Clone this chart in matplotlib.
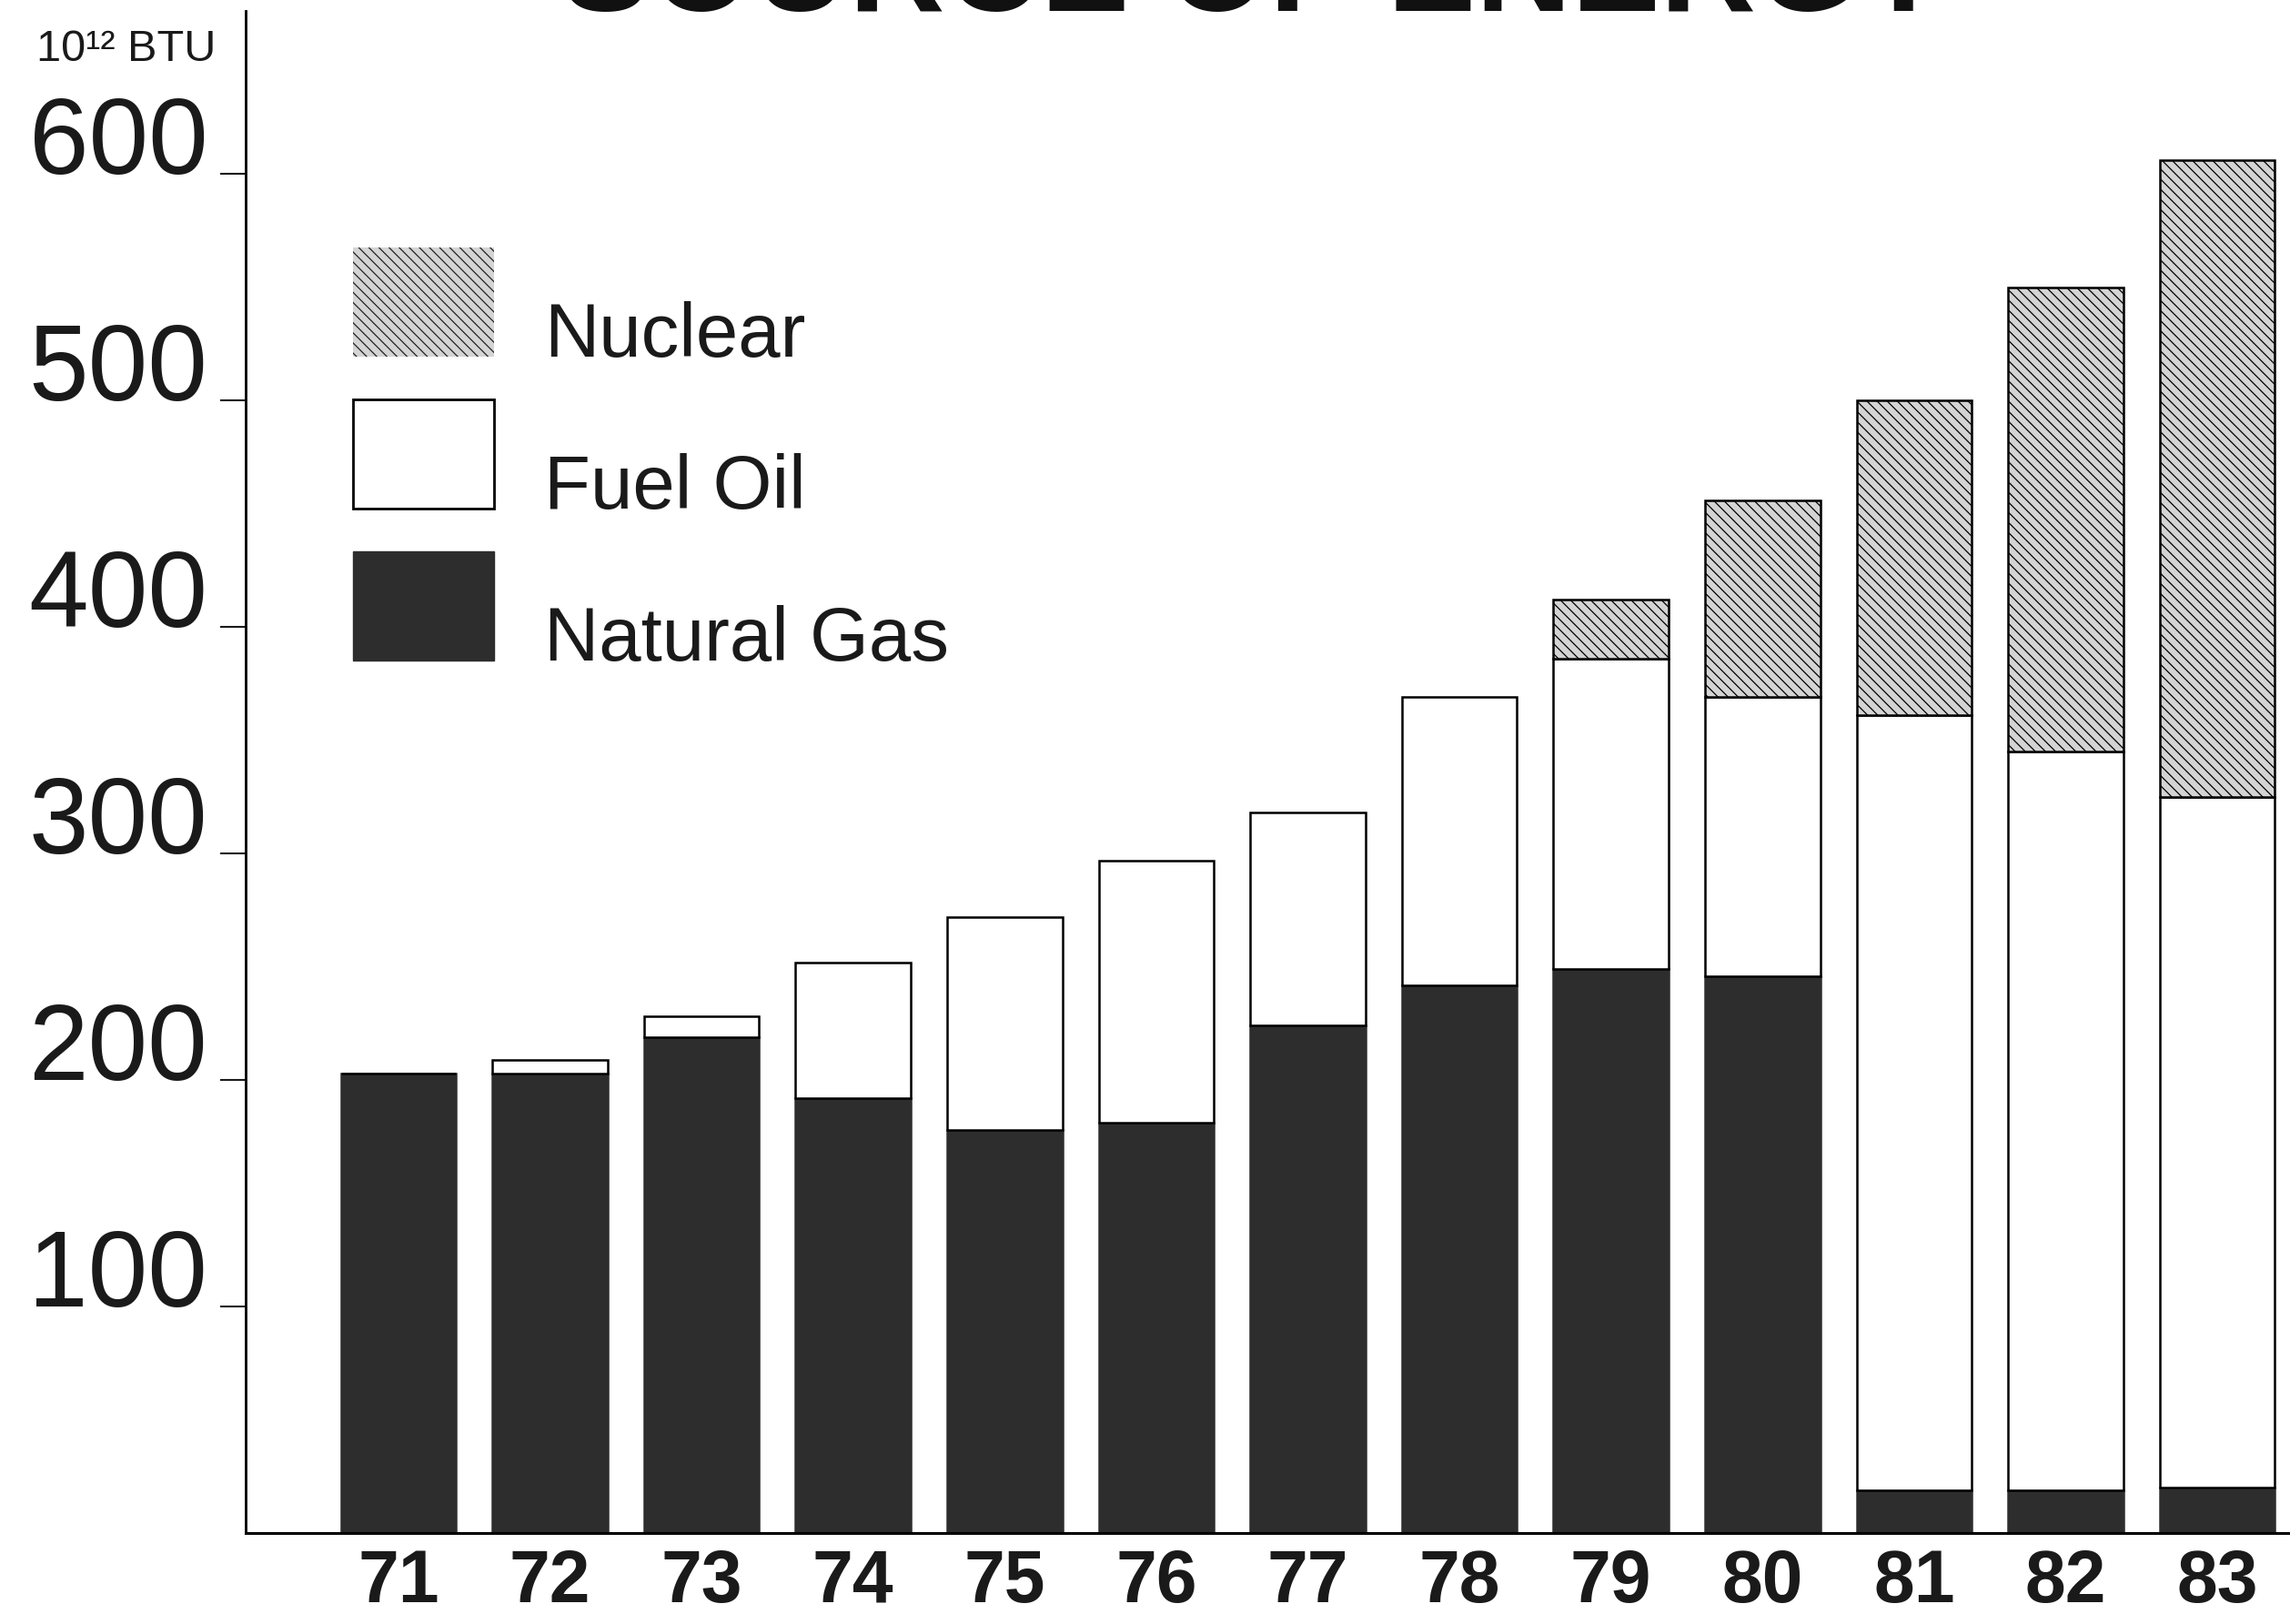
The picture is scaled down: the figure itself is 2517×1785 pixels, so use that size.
import matplotlib
matplotlib.use('Agg')
import matplotlib.pyplot as plt
from matplotlib.patches import Rectangle
import numpy as np

# values, 10^12 BTU
years = ['71', '72', '73', '74', '75', '76', '77', '78', '79', '80', '81', '82', '83']
natural_gas = [203, 203, 219, 192, 178, 181, 224, 242, 249, 246, 19, 19, 20]
fuel_oil = [0, 6, 9, 60, 94, 116, 94, 127, 137, 123, 342, 326, 305]
nuclear = [0, 0, 0, 0, 0, 0, 0, 0, 26, 87, 139, 205, 281]

y_ticks = [100, 200, 300, 400, 500, 600]
legend_labels = ['Nuclear', 'Fuel Oil', 'Natural Gas']

plt.rcParams['hatch.linewidth'] = 0.9

W, H = 2517, 1785
fig = plt.figure(figsize=(W / 100, H / 100), dpi=100)
ax = fig.add_axes([270 / W, 1 - 1685 / H, 1 - 270 / W, (1685 - 12) / H])

x = np.arange(len(years))
gas = np.array(natural_gas)
oil = np.array(fuel_oil)
nuc = np.array(nuclear)

gas_color = '#2d2d2d'
nuc_face = '#d4d4d4'
bw = 0.76

ax.bar(x, gas, width=bw, color=gas_color, edgecolor=gas_color, linewidth=1.8)
ax.bar(x, oil, width=bw, bottom=gas, color='white', edgecolor='black', linewidth=1.8)
has_nuc = nuc > 0
ax.bar(x[has_nuc], nuc[has_nuc], width=bw, bottom=(gas + oil)[has_nuc],
       color=nuc_face, edgecolor='black', linewidth=1.8, hatch='\\\\\\')

ax.set_xlim(-1.008, 12.48)
ax.set_ylim(0, 672)

for side in ['top', 'right']:
    ax.spines[side].set_visible(False)
ax.spines['left'].set_linewidth(2)
ax.spines['bottom'].set_linewidth(2.2)

ax.set_yticks(y_ticks)
ax.set_yticklabels([str(v) for v in y_ticks], fontfamily='Liberation Sans', fontsize=85)
for lab in ax.get_yticklabels():
    lab.set_verticalalignment('baseline')
ax.tick_params(axis='y', direction='out', length=20, width=1.5, pad=10, colors='#1a1a1a')

ax.set_xticks(x)
ax.set_xticklabels(years, fontfamily='Liberation Sans', fontweight='bold', fontsize=58)
ax.tick_params(axis='x', length=0, pad=12, colors='#1a1a1a')

# legend drawn by hand so text baselines sit on the bottom of each swatch
styles = [
    dict(facecolor=nuc_face, edgecolor='#222222', linewidth=0, hatch='\\\\\\'),
    dict(facecolor='white', edgecolor='black', linewidth=2),
    dict(facecolor=gas_color, edgecolor=gas_color, linewidth=1),
]
for i, (label, st) in enumerate(zip(legend_labels, styles)):
    top = 272 + i * 167
    bottom = top + 120
    fig.patches.append(Rectangle((388 / W, 1 - bottom / H), 155 / W, 120 / H,
                                 transform=fig.transFigure, figure=fig, **st))
    fig.text(598 / W, 1 - bottom / H, label, fontsize=60, va='baseline',
             family='Liberation Sans', color='#1a1a1a')

fig.text(40 / W, 1 - 67 / H, '10¹² BTU', fontsize=35, va='baseline',
         family='Liberation Sans', color='#1a1a1a')

# title, mostly cut off by the top edge of the page (as in the scan)
fig.text(1379 / W, 1 - 12 / H, 'SOURCE OF ENERGY', fontsize=105, fontweight='bold',
         ha='center', va='baseline', family='Liberation Sans', color='#111111')

fig.savefig('out.png', dpi=100)
